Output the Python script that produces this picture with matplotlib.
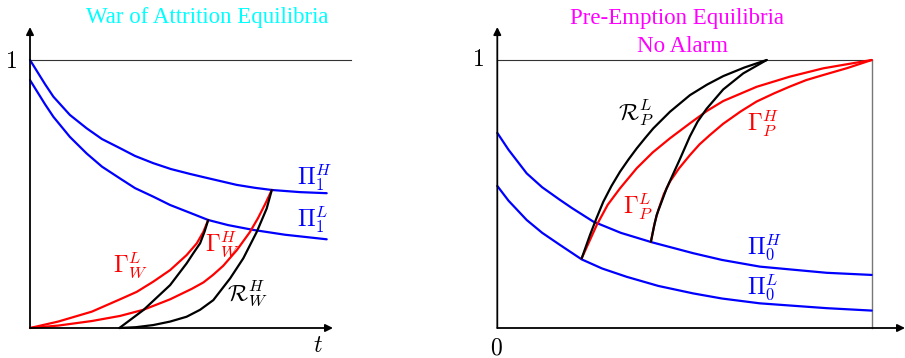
import matplotlib
matplotlib.use("Agg")
import matplotlib.pyplot as plt

plt.rcParams["mathtext.fontset"] = "cm"
plt.rcParams["font.family"] = ["Liberation Serif", "DejaVu Serif"]

# --- left panel: war of attrition (t in schematic units, y in [0, 1]) ---
pi1h_t = [0, 0.25, 0.5, 0.78, 1.33, 1.89, 2.4, 3.0, 3.5, 4.11, 4.7, 5.33, 5.78, 6.89, 7.5, 8.06, 9.0, 9.89]
pi1h_y = [1.0, 0.955, 0.91, 0.863, 0.795, 0.745, 0.705, 0.671, 0.642, 0.615, 0.593, 0.575, 0.563, 0.534, 0.523, 0.515, 0.507, 0.503]
pi1l_t = [0, 0.25, 0.5, 0.78, 1.33, 1.89, 2.4, 3.0, 3.5, 4.11, 4.67, 5.33, 5.94, 6.6, 7.44, 8.5, 9.89]
pi1l_y = [0.925, 0.88, 0.835, 0.788, 0.713, 0.651, 0.602, 0.558, 0.522, 0.490, 0.459, 0.430, 0.403, 0.384, 0.366, 0.348, 0.331]
gwl_t = [0, 0.94, 2.06, 3.0, 3.56, 4.11, 4.67, 5.22, 5.56, 5.78, 5.94]
gwl_y = [0, 0.024, 0.061, 0.107, 0.135, 0.173, 0.216, 0.272, 0.316, 0.359, 0.403]
gwh_t = [0, 0.94, 2.06, 3.0, 3.78, 4.67, 5.39, 5.78, 6.1, 6.44, 6.89, 7.33, 7.6, 7.85, 8.06]
gwh_y = [0, 0.009, 0.026, 0.045, 0.068, 0.107, 0.146, 0.17, 0.198, 0.232, 0.29, 0.358, 0.41, 0.465, 0.515]
rwl_t = [2.98, 3.78, 4.67, 5.22, 5.45, 5.67, 5.82, 5.94]
rwl_y = [0, 0.067, 0.160, 0.241, 0.28, 0.316, 0.36, 0.403]
rwh_t = [2.98, 3.53, 4.11, 4.67, 5.22, 5.67, 6.11, 6.67, 7.11, 7.56, 7.89, 8.06]
rwh_y = [0, 0.003, 0.011, 0.024, 0.042, 0.068, 0.104, 0.185, 0.260, 0.359, 0.446, 0.515]

# --- right panel: pre-emption, no alarm ---
pi0h_t = [0, 0.3, 0.785, 1.2, 1.674, 2.0, 2.564, 3.3, 4.124, 5.235, 6.0, 7.014, 8.796, 10.0]
pi0h_y = [0.728, 0.665, 0.577, 0.525, 0.478, 0.447, 0.397, 0.355, 0.320, 0.279, 0.254, 0.229, 0.206, 0.198]
pi0l_t = [0, 0.3, 0.785, 1.2, 1.674, 2.254, 2.8, 3.456, 4.3, 5.235, 6.0, 7.014, 8.796, 10.0]
pi0l_y = [0.530, 0.475, 0.403, 0.355, 0.310, 0.256, 0.222, 0.191, 0.157, 0.129, 0.11, 0.092, 0.074, 0.065]
rpl_t = [2.254, 2.476, 2.65, 2.831, 3.05, 3.277, 3.5, 3.723, 3.95, 4.167, 4.613, 5.147, 5.6, 6.036, 6.6, 7.195]
rpl_y = [0.260, 0.347, 0.41, 0.471, 0.53, 0.583, 0.628, 0.670, 0.709, 0.745, 0.807, 0.869, 0.908, 0.940, 0.972, 1.0]
gpl_t = [2.254, 2.655, 2.95, 3.277, 3.723, 4.15, 4.613, 5.147, 5.6, 6.036, 6.927, 7.817, 8.707, 10.0]
gpl_y = [0.260, 0.384, 0.46, 0.521, 0.596, 0.655, 0.708, 0.764, 0.81, 0.847, 0.900, 0.938, 0.969, 1.0]
rph_t = [4.103, 4.18, 4.255, 4.522, 4.877, 5.144, 5.35, 5.59, 6.033, 6.568, 7.195]
rph_y = [0.322, 0.375, 0.421, 0.521, 0.63, 0.715, 0.77, 0.818, 0.89, 0.95, 1.0]
gph_t = [4.103, 4.2, 4.3, 4.45, 4.61, 4.85, 5.144, 5.4, 5.678, 6.033, 6.5, 6.925, 7.4, 7.817, 8.25, 8.707, 9.35, 10.0]
gph_y = [0.322, 0.39, 0.44, 0.5, 0.546, 0.595, 0.645, 0.685, 0.72, 0.762, 0.808, 0.845, 0.876, 0.901, 0.925, 0.944, 0.97, 1.0]

BLUE, RED = "#0000ff", "#ff0000"
W, H = 905, 358

fig = plt.figure(figsize=(W / 100, H / 100), dpi=100)


def make_axes(x0, y0, sx, sy, xlim, ylim):
    # x0,y0: pixel of data origin, sx/sy: pixels per data unit
    left = x0 + sx * xlim[0]
    right = x0 + sx * xlim[1]
    top = y0 - sy * ylim[1]
    bottom = y0 - sy * ylim[0]
    ax = fig.add_axes([left / W, (H - bottom) / H, (right - left) / W, (bottom - top) / H])
    ax.set_xlim(*xlim)
    ax.set_ylim(*ylim)
    ax.axis("off")
    return ax


def axis_arrows(ax, xend, yend):
    style = dict(arrowstyle="-|>", color="black", lw=1.3, mutation_scale=11, shrinkA=0, shrinkB=0)
    ax.annotate("", xy=(xend, 0), xytext=(0, 0), arrowprops=style)
    ax.annotate("", xy=(0, yend), xytext=(0, 0), arrowprops=style)


def curve(ax, t, y, color):
    ax.plot(t, y, color=color, lw=1.6, solid_joinstyle="round", solid_capstyle="round")


fs = 17
tfs = 16.5

# left panel
axL = make_axes(30, 328, 30, 268, (-0.3, 11.0), (-0.1, 1.15))
axL.plot([0, 10.7], [1, 1], color="#333333", lw=0.8)
axis_arrows(axL, 10.1, 1.123)
curve(axL, pi1h_t, pi1h_y, BLUE)
curve(axL, pi1l_t, pi1l_y, BLUE)
curve(axL, gwl_t, gwl_y, RED)
curve(axL, gwh_t, gwh_y, RED)
curve(axL, rwl_t, rwl_y, "black")
curve(axL, rwh_t, rwh_y, "black")

axL.text(5.92, 1.157, "War of Attrition Equilibria", color="#00ffff", fontsize=tfs,
         ha="center", va="center")
axL.text(-0.63, 0.99, r"$1$", fontsize=fs, ha="center", va="center")
axL.text(9.6, -0.07, r"$t$", fontsize=fs, ha="center", va="center")
axL.text(8.9, 0.562, r"$\Pi_1^H$", color=BLUE, fontsize=fs, ha="left", va="center")
axL.text(8.9, 0.403, r"$\Pi_1^L$", color=BLUE, fontsize=fs, ha="left", va="center")
axL.text(2.77, 0.231, r"$\Gamma_W^L$", color=RED, fontsize=fs, ha="left", va="center")
axL.text(5.83, 0.31, r"$\Gamma_W^H$", color=RED, fontsize=fs, ha="left", va="center")
axL.text(6.56, 0.127, r"$\mathcal{R}_W^H$", fontsize=fs, ha="left", va="center")

# right panel
axR = make_axes(497.3, 328, 37.44, 268, (-0.6, 10.9), (-0.1, 1.15))
axR.plot([0, 10], [1, 1], color="#333333", lw=0.8)
axR.plot([10, 10], [0, 1], color="#777777", lw=1.0)
axis_arrows(axR, 10.89, 1.123)
curve(axR, pi0h_t, pi0h_y, BLUE)
curve(axR, pi0l_t, pi0l_y, BLUE)
curve(axR, gpl_t, gpl_y, RED)
curve(axR, gph_t, gph_y, RED)
curve(axR, rpl_t, rpl_y, "black")
curve(axR, rph_t, rph_y, "black")

axR.text(4.8, 1.153, "Pre-Emption Equilibria", color="#ff00ff", fontsize=tfs,
         ha="center", va="center")
axR.text(4.95, 1.049, "No Alarm", color="#ff00ff", fontsize=tfs, ha="center", va="center")
axR.text(-0.51, 0.997, r"$1$", fontsize=fs, ha="center", va="center")
axR.text(-0.035, -0.079, r"$0$", fontsize=fs, ha="center", va="center")
axR.text(3.23, 0.804, r"$\mathcal{R}_P^L$", fontsize=fs, ha="left", va="center")
axR.text(6.68, 0.764, r"$\Gamma_P^H$", color=RED, fontsize=fs, ha="left", va="center")
axR.text(3.35, 0.455, r"$\Gamma_P^L$", color=RED, fontsize=fs, ha="left", va="center")
axR.text(6.68, 0.298, r"$\Pi_0^H$", color=BLUE, fontsize=fs, ha="left", va="center")
axR.text(6.68, 0.149, r"$\Pi_0^L$", color=BLUE, fontsize=fs, ha="left", va="center")

fig.savefig("out.png", dpi=100)
